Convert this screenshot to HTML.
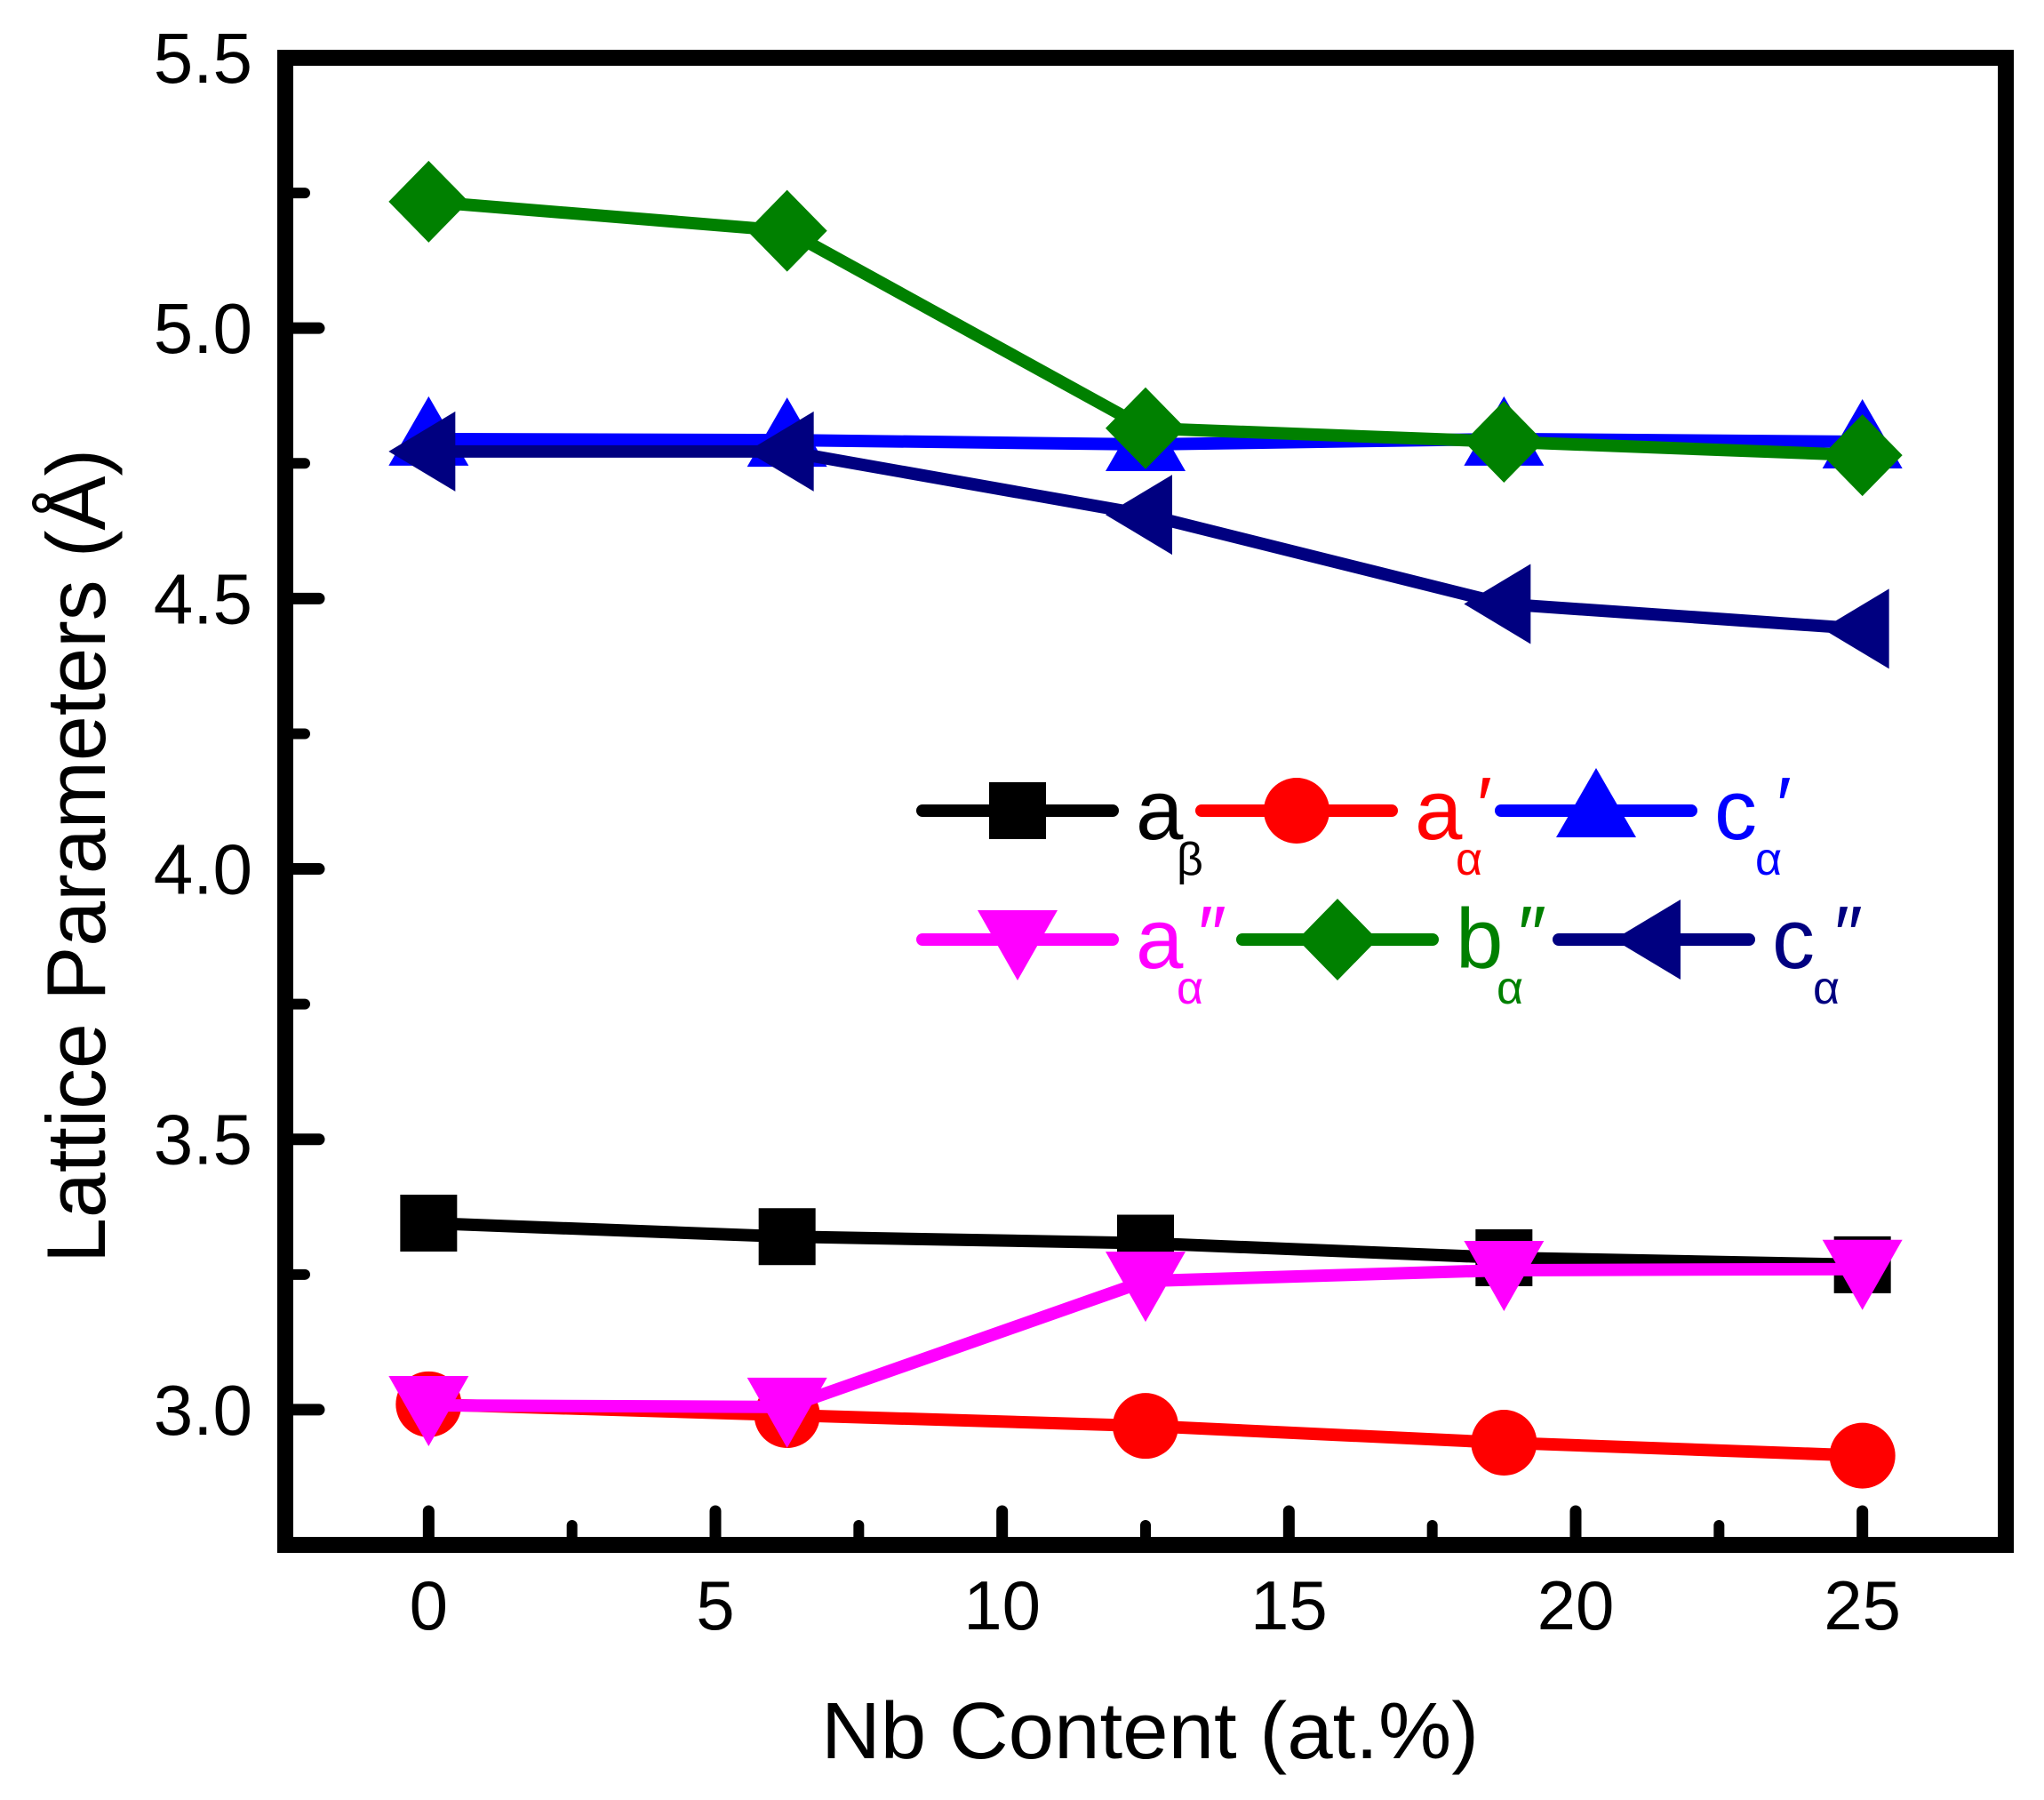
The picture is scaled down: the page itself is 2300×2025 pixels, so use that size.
<!DOCTYPE html>
<html><head><meta charset="utf-8"><style>
html,body{margin:0;padding:0;background:#fff}
svg{display:block}
text{font-family:"Liberation Sans",sans-serif}
</style></head><body>
<svg id="chart" width="2300" height="2025" viewBox="0 0 2300 2025" xmlns="http://www.w3.org/2000/svg">
<g id="grid-ticks"></g>
<g id="series"></g>
<rect x="321" y="65" width="1936" height="1673" fill="none" stroke="#000" stroke-width="18"/>
<g id="labels"></g>
<text x="1294" y="1978" font-size="90" text-anchor="middle" textLength="740" lengthAdjust="spacingAndGlyphs">Nb Content (at.%)</text>
<text transform="translate(118,963) rotate(-90)" font-size="94" text-anchor="middle" textLength="916" lengthAdjust="spacingAndGlyphs">Lattice Parameters (Å)</text>
<g id="legend"></g>
</svg>
<script>
const xValues = [0, 6.25, 12.5, 18.75, 25];
const aBeta = [3.345, 3.32, 3.308, 3.281, 3.268];
const aAlphaP = [3.01, 2.99, 2.97, 2.939, 2.915];
const cAlphaP = [4.795, 4.793, 4.785, 4.795, 4.79];
const aAlphaPP = [3.008, 3.005, 3.238, 3.258, 3.26];
const bAlphaPP = [5.234, 5.18, 4.815, 4.79, 4.765];
const cAlphaPP = [4.772, 4.772, 4.655, 4.49, 4.444];
const xTicks = [0, 5, 10, 15, 20, 25];
const xMinorTicks = [2.5, 7.5, 12.5, 17.5, 22.5];
const yTicks = [3.0, 3.5, 4.0, 4.5, 5.0, 5.5];
const yMinorTicks = [3.25, 3.75, 4.25, 4.75, 5.25];
const yTickLabels = ["3.0", "3.5", "4.0", "4.5", "5.0", "5.5"];
const xTickLabels = ["0", "5", "10", "15", "20", "25"];

const NS = "http://www.w3.org/2000/svg";
const L = 321, R = 2257, T = 65, B = 1738;
const XMIN = -2.5, XMAX = 27.5, YMIN = 2.75, YMAX = 5.5;
const sx = v => L + (v - XMIN) / (XMAX - XMIN) * (R - L);
const sy = v => B - (v - YMIN) / (YMAX - YMIN) * (B - T);
function mk(tag, attrs, parent) {
  const e = document.createElementNS(NS, tag);
  for (const k in attrs) e.setAttribute(k, attrs[k]);
  parent.appendChild(e);
  return e;
}
const gt = document.getElementById('grid-ticks');
const gl = document.getElementById('labels');
xTicks.forEach((v, i) => {
  const t = mk('line', {x1: sx(v), x2: sx(v), y1: B, y2: B - 38, stroke: '#000', 'stroke-width': 13, 'stroke-linecap': 'round'}, gt);
  
  
  const lb = mk('text', {x: sx(v), y: 1833, 'font-size': 78, 'text-anchor': 'middle'}, gl);
  lb.textContent = xTickLabels[i];
  
  
});
xMinorTicks.forEach(v => {
  const t = mk('line', {x1: sx(v), x2: sx(v), y1: B, y2: B - 22, stroke: '#000', 'stroke-width': 12, 'stroke-linecap': 'round'}, gt);
  
  
});
yTicks.forEach((v, i) => {
  const t = mk('line', {x1: L, x2: L + 38, y1: sy(v), y2: sy(v), stroke: '#000', 'stroke-width': 13, 'stroke-linecap': 'round'}, gt);
  
  
  const lb = mk('text', {x: 284, y: sy(v) + 28, 'font-size': 80, 'text-anchor': 'end'}, gl);
  lb.textContent = yTickLabels[i];
  
  
});
yMinorTicks.forEach(v => {
  const t = mk('line', {x1: L, x2: L + 22, y1: sy(v), y2: sy(v), stroke: '#000', 'stroke-width': 12, 'stroke-linecap': 'round'}, gt);
  
  
});

function marker(kind, cx, cy, color, parent) {
  let e;
  if (kind === 'square') e = mk('rect', {x: cx - 32, y: cy - 32, width: 64, height: 64, fill: color}, parent);
  else if (kind === 'circle') e = mk('circle', {cx: cx, cy: cy, r: 37, fill: color}, parent);
  else if (kind === 'up') e = mk('polygon', {points: `${cx},${cy-48} ${cx+45},${cy+30} ${cx-45},${cy+30}`, fill: color}, parent);
  else if (kind === 'down') e = mk('polygon', {points: `${cx-45},${cy-33} ${cx+45},${cy-33} ${cx},${cy+46}`, fill: color}, parent);
  else if (kind === 'diamond') e = mk('polygon', {points: `${cx},${cy-46} ${cx+45},${cy} ${cx},${cy+46} ${cx-45},${cy}`, fill: color}, parent);
  else if (kind === 'left') e = mk('polygon', {points: `${cx-45},${cy} ${cx+30},${cy-45} ${cx+30},${cy+45}`, fill: color}, parent);
  return e;
}
const seriesList = [
  {name: 'a-beta', data: aBeta, color: '#000000', kind: 'square'},
  {name: 'a-alpha-prime', data: aAlphaP, color: '#ff0000', kind: 'circle'},
  {name: 'c-alpha-prime', data: cAlphaP, color: '#0000ff', kind: 'up'},
  {name: 'c-alpha-double-prime', data: cAlphaPP, color: '#000080', kind: 'left'},
  {name: 'a-alpha-double-prime', data: aAlphaPP, color: '#ff00ff', kind: 'down'},
  {name: 'b-alpha-double-prime', data: bAlphaPP, color: '#008000', kind: 'diamond'}
];
const gs = document.getElementById('series');
seriesList.forEach(s => {
  const g = mk('g', {}, gs);
  
  
  const pts = s.data.map((v, i) => sx(xValues[i]) + ',' + sy(v)).join(' ');
  const ln = mk('polyline', {points: pts, fill: 'none', stroke: s.color, 'stroke-width': 14, 'stroke-linejoin': 'round'}, g);
  
  
  s.data.forEach((v, i) => {
    const m = marker(s.kind, sx(xValues[i]), sy(v), s.color, g);
    
    
  });
});

const legendItems = [
  {x: 1038, y: 912, color: '#000000', kind: 'square', main: 'a', sub: 'β', prime: ''},
  {x: 1352, y: 912, color: '#ff0000', kind: 'circle', main: 'a', sub: 'α', prime: '′'},
  {x: 1689, y: 912, color: '#0000ff', kind: 'up', main: 'c', sub: 'α', prime: '′'},
  {x: 1038, y: 1057, color: '#ff00ff', kind: 'down', main: 'a', sub: 'α', prime: '″'},
  {x: 1398, y: 1057, color: '#008000', kind: 'diamond', main: 'b', sub: 'α', prime: '″'},
  {x: 1754, y: 1057, color: '#000080', kind: 'left', main: 'c', sub: 'α', prime: '″'}
];
const lg = document.getElementById('legend');
legendItems.forEach(it => {
  const g = mk('g', {}, lg);
  
  
  mk('line', {x1: it.x, x2: it.x + 214, y1: it.y, y2: it.y, stroke: it.color, 'stroke-width': 14, 'stroke-linecap': 'round'}, g);
  marker(it.kind, it.x + 107, it.y, it.color, g);
  const t = mk('text', {x: it.x + 240, y: it.y + 32, 'font-size': 96, fill: it.color}, g);
  t.textContent = it.main;
  const sb = mk('text', {x: it.x + 286, y: it.y + 72, 'font-size': 52, fill: it.color}, g);
  sb.textContent = it.sub;
  if (it.prime) {
    const p = mk('text', {x: it.x + 310, y: it.y + 25, 'font-size': 90, fill: it.color}, g);
    p.textContent = it.prime;
  }
});
</script>
</body></html>
